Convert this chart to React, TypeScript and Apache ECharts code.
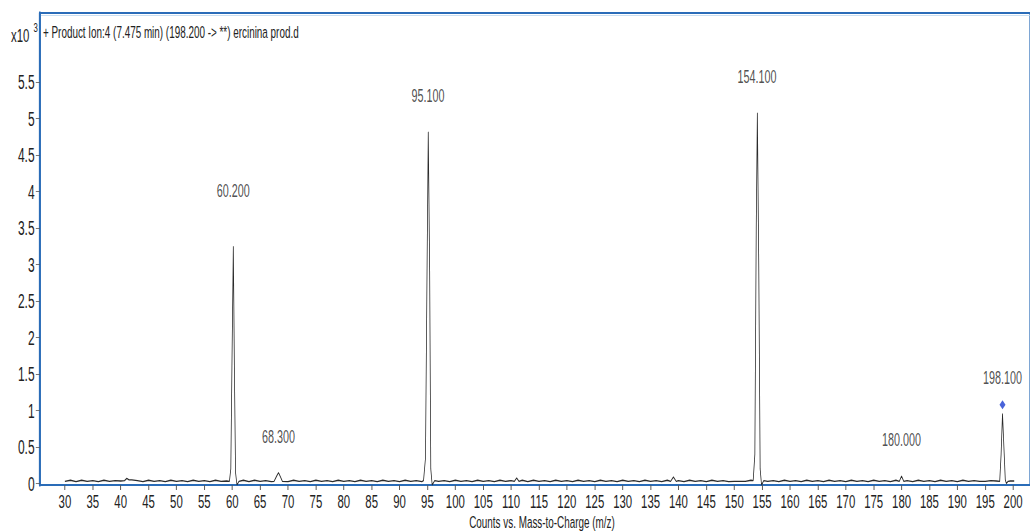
import React, { useEffect, useRef } from "react";
import * as echarts from "echarts";

// ---- data ----
const titleText = "+ Product Ion:4 (7.475 min) (198.200 -> **) ercinina prod.d";
const xAxisTitle = "Counts vs. Mass-to-Charge (m/z)";
const xTicks = [30, 35, 40, 45, 50, 55, 60, 65, 70, 75, 80, 85, 90, 95, 100, 105, 110, 115, 120, 125, 130, 135, 140, 145, 150, 155, 160, 165, 170, 175, 180, 185, 190, 195, 200];
const yTicks = [0, 0.5, 1, 1.5, 2, 2.5, 3, 3.5, 4, 4.5, 5, 5.5];

// baseline noise, counts x10^3, at integer m/z from 30 to 200
const baselineStart = 30;
const baseline = [
  0.03, 0.045, 0.025, 0.045, 0.03, 0.04, 0.025, 0.045, 0.03, 0.04,
  0.035, 0.065, 0.05, 0.04, 0.025, 0.045, 0.03, 0.04, 0.025, 0.045,
  0.03, 0.04, 0.025, 0.045, 0.03, 0.04, 0.025, 0.045, 0.03, 0.035,
  0.03, 0.03, 0.045, 0.025, 0.045, 0.03, 0.04, 0.025, 0.03, 0.03,
  0.025, 0.045, 0.03, 0.04, 0.025, 0.045, 0.03, 0.04, 0.025, 0.045,
  0.03, 0.04, 0.025, 0.045, 0.03, 0.04, 0.025, 0.045, 0.03, 0.04,
  0.025, 0.045, 0.03, 0.04, 0.025, 0.04, 0.03, 0.03, 0.04, 0.025,
  0.045, 0.03, 0.04, 0.025, 0.045, 0.03, 0.04, 0.025, 0.045, 0.03,
  0.04, 0.03, 0.045, 0.025, 0.045, 0.03, 0.04, 0.025, 0.045, 0.03,
  0.04, 0.025, 0.045, 0.03, 0.04, 0.025, 0.045, 0.03, 0.04, 0.025,
  0.045, 0.03, 0.04, 0.025, 0.045, 0.03, 0.04, 0.025, 0.045, 0.03,
  0.04, 0.025, 0.045, 0.03, 0.04, 0.025, 0.045, 0.03, 0.04, 0.025,
  0.03, 0.03, 0.03, 0.045, 0.025, 0.045, 0.03, 0.04, 0.025, 0.045,
  0.03, 0.04, 0.025, 0.045, 0.03, 0.04, 0.025, 0.045, 0.03, 0.04,
  0.025, 0.045, 0.03, 0.04, 0.025, 0.045, 0.03, 0.04, 0.025, 0.045,
  0.03, 0.04, 0.025, 0.045, 0.03, 0.04, 0.025, 0.045, 0.03, 0.04,
  0.025, 0.045, 0.03, 0.04, 0.03, 0.03, 0.04, 0.035, 0.03, 0.04,
  0.035,
];

// peaks and bumps, [m/z, counts x10^3]
const peak41 = [[40.7, 0.04], [41.1, 0.07], [41.5, 0.05]];
const peak60 = [[59.5, 0.03], [59.75, 0.2], [59.95, 1.6], [60.2, 3.25], [60.4, 1.5], [60.6, 0.15], [60.85, -0.02], [61.2, 0.03]];
const peak68 = [[67.5, 0.03], [67.95, 0.1], [68.3, 0.15], [68.65, 0.09], [69.0, 0.03]];
const peak95 = [[94.3, 0.04], [94.65, 0.35], [94.95, 3.1], [95.15, 4.82], [95.4, 2.9], [95.6, 0.2], [95.85, -0.02], [96.3, 0.04]];
const peak111 = [[110.6, 0.03], [111.0, 0.075], [111.4, 0.03]];
const peak139 = [[138.6, 0.03], [139.1, 0.09], [139.6, 0.03]];
const peak154 = [[153.4, 0.04], [153.7, 0.4], [153.95, 3.5], [154.15, 5.08], [154.4, 3.0], [154.65, 0.2], [154.9, -0.02], [155.3, 0.04]];
const peak180 = [[179.6, 0.03], [180.0, 0.1], [180.4, 0.03]];
const peak198 = [[197.6, 0.03], [197.85, 0.4], [198.1, 0.96], [198.35, 0.5], [198.6, 0.05], [198.8, 0.0], [199.1, 0.03]];
const tailPoints = [[199.5, 0.035], [200.2, 0.035]];

const peakLabelMz = [60.2, 68.3, 95.1, 154.1, 180.0, 198.1];
const peakLabelCounts = [3.25, 0.15, 4.82, 5.08, 0.1, 0.96];
const peakLabelText = ["60.200", "68.300", "95.100", "154.100", "180.000", "198.100"];
const precursorMz = 198.1;
const precursorCounts = 1.08;

const FONT = "'Liberation Sans', Arial, sans-serif";
const BLUE = "#2a6cb8";
const OUT_W = 1030;
const OUT_H = 532;
const INNER_W = 1717; // chart is drawn wider and squeezed horizontally (condensed text look)
const SX = OUT_W / INNER_W;
const px = (x: number) => x / SX;

function buildSpectrum(): number[][] {
  const peaks = [peak41, peak60, peak68, peak95, peak111, peak139, peak154, peak180, peak198];
  const windows = peaks.map((p) => [p[0][0], p[p.length - 1][0]]);
  const pts: number[][] = [];
  baseline.forEach((v, i) => {
    const mz = baselineStart + i;
    if (mz > 199) return;
    if (windows.some(([a, b]) => mz >= a - 0.2 && mz <= b + 0.2)) return;
    pts.push([mz, v]);
  });
  peaks.forEach((p) => p.forEach((q) => pts.push(q)));
  tailPoints.forEach((q) => pts.push(q));
  pts.sort((a, b) => a[0] - b[0]);
  return pts;
}

export default function App() {
  const ref = useRef<HTMLDivElement>(null);
  useEffect(() => {
    document.body.style.margin = "0";
    if (!ref.current) return;
    const chart = echarts.init(ref.current, undefined, { renderer: "svg" });
    const labelData = peakLabelMz.map((mz, i) => ({
      value: [mz, peakLabelCounts[i]],
      label: { distance: mz === 60.2 ? 46 : 27 },
    }));
    chart.setOption({
      animation: false,
      backgroundColor: "#ffffff",
      grid: {
        left: px(40),
        top: 13,
        right: px(-5),
        bottom: 47,
        show: true,
        borderColor: BLUE,
        borderWidth: 2,
        backgroundColor: "transparent",
      },
      xAxis: {
        type: "value",
        min: 25.54,
        max: 203.03,
        splitLine: { show: false },
        axisLine: { show: true, onZero: false, lineStyle: { color: BLUE, width: 2 } },
        axisTick: {
          show: true,
          length: 5,
          customValues: xTicks,
          lineStyle: { color: "#555", width: 1.6 },
        },
        axisLabel: {
          customValues: xTicks,
          margin: 7,
          fontFamily: FONT,
          fontSize: 19,
          lineHeight: 19,
          color: "#222",
        },
      },
      yAxis: {
        type: "value",
        min: -0.02,
        max: 6.445,
        splitLine: { show: false },
        axisLine: { show: true, onZero: false, lineStyle: { color: BLUE, width: 3.4 } },
        axisTick: {
          show: true,
          length: 7,
          customValues: yTicks,
          lineStyle: { color: "#555", width: 1 },
        },
        axisLabel: {
          customValues: yTicks,
          margin: 9,
          fontFamily: FONT,
          fontSize: 20,
          color: "#222",
        },
      },
      graphic: [
        { type: "line", shape: { x1: px(40), y1: 15.5, x2: INNER_W, y2: 15.5 }, style: { stroke: "#bcd6ee", lineWidth: 1 } },
        {
          type: "text",
          x: px(43),
          y: 33,
          style: { text: titleText, font: `16.5px ${FONT}`, fill: "#222", textVerticalAlign: "middle" },
        },
        { type: "text", x: px(11), y: 35, style: { text: "x10", font: `19px ${FONT}`, fill: "#222", textVerticalAlign: "middle" } },
        { type: "text", x: px(33.5), y: 27, style: { text: "3", font: `13px ${FONT}`, fill: "#222", textVerticalAlign: "middle" } },
        {
          type: "text",
          x: px(542),
          y: 523,
          style: { text: xAxisTitle, font: `16.5px ${FONT}`, fill: "#222", textAlign: "center", textVerticalAlign: "middle" },
        },
      ],
      series: [
        {
          type: "line",
          data: buildSpectrum(),
          showSymbol: false,
          symbol: "none",
          lineStyle: { color: "#2b2b2b", width: 1.3 },
          silent: true,
          z: 3,
        },
        {
          type: "scatter",
          data: labelData,
          symbolSize: 0,
          silent: true,
          label: {
            show: true,
            position: "top",
            formatter: (p: any) => peakLabelText[p.dataIndex],
            fontFamily: FONT,
            fontSize: 18,
            color: "#222",
          },
          z: 4,
        },
        {
          type: "scatter",
          data: [[precursorMz, precursorCounts]],
          symbol: "diamond",
          symbolSize: [10, 9],
          itemStyle: { color: "#1c3ccf" },
          silent: true,
          z: 5,
        },
      ],
    });
    return () => chart.dispose();
  }, []);
  return (
    <div style={{ width: OUT_W, height: OUT_H, overflow: "hidden", position: "relative" }}>
      <div
        ref={ref}
        style={{ width: INNER_W, height: OUT_H, transform: `scaleX(${SX})`, transformOrigin: "0 0" }}
      />
    </div>
  );
}
